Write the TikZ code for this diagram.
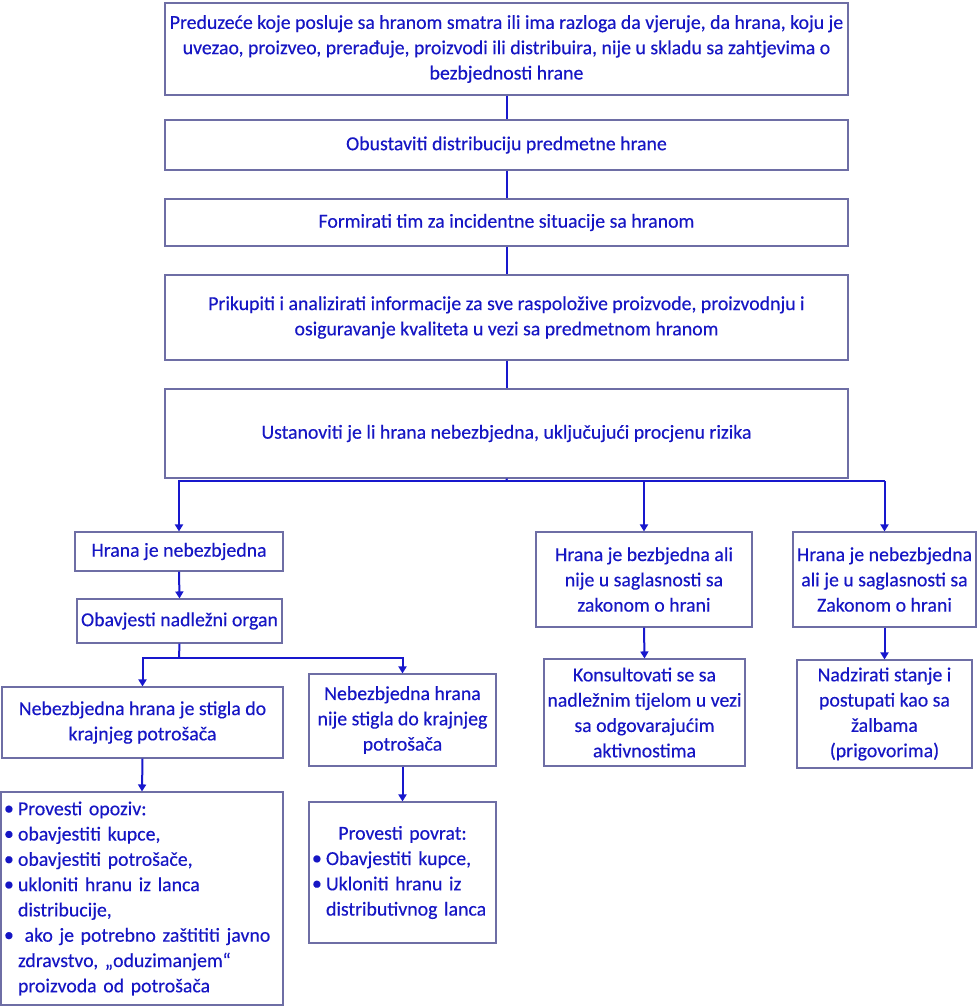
\documentclass[tikz,border=0pt]{standalone}
\usepackage{fontspec}
\setmainfont{Carlito}
\usetikzlibrary{arrows.meta}
\definecolor{txtblue}{RGB}{22,22,196}
\definecolor{lnblue}{RGB}{24,24,205}
\definecolor{bxgray}{RGB}{110,110,165}
\newcommand{\bul}{\makebox[14pt][l]{\raisebox{0.5pt}{\textbullet}}}
\newcommand{\ind}{\hspace*{14pt}}
\tikzset{
  x=1pt, y=-1pt,
  box/.style={draw=bxgray, line width=1.1pt, fill=white, text=txtblue,
    inner sep=1pt, align=center,
    font=\fontsize{19.8}{25.3}\selectfont\addfontfeatures{FakeBold=0.3}},
  ln/.style={draw=lnblue, line width=2pt},
  arr/.style={ln, -{Triangle[width=8pt,length=7pt]}},
}
% centred box: name, x1, y1, x2, y2, text
\newcommand{\bx}[6]{%
  \node[box, minimum width={#4-#2}, minimum height={#5-#3}]
    (#1) at ({(#2+#4)/2},{(#3+#5)/2}) {#6};}
% left-aligned box
\newcommand{\bxl}[6]{%
  \node[box, align=left, minimum width={#4-#2}, minimum height={#5-#3},
        text width={#4-#2-6}] (#1) at ({(#2+#4)/2},{(#3+#5)/2}) {#6};}
\begin{document}
\begin{tikzpicture}
\useasboundingbox (0,0) rectangle (978,1007);
\fill[white] (0,0) rectangle (978,1007);
\bx{b1}{165}{3}{848}{95}{Preduzeće koje posluje sa hranom smatra ili ima razloga da vjeruje, da hrana, koju je\\ uvezao, proizveo, prerađuje, proizvodi ili distribuira, nije u skladu sa zahtjevima o\\ bezbjednosti hrane}
\bx{b2}{165}{120}{848}{170}{Obustaviti distribuciju predmetne hrane}
\bx{b3}{165}{199}{848}{246}{Formirati tim za incidentne situacije sa hranom}
\bx{b4}{165}{275}{848}{360}{Prikupiti i analizirati informacije za sve raspoložive proizvode, proizvodnju i\\ osiguravanje kvaliteta u vezi sa predmetnom hranom}
\bx{b5}{165}{389}{848}{478}{Ustanoviti je li hrana nebezbjedna, uključujući procjenu rizika}
\bx{b6}{75}{532}{283}{571}{Hrana je nebezbjedna}
\bx{b7}{77}{599}{282}{643}{Obavjesti nadležni organ}
\bx{b8}{2}{687}{283}{758}{Nebezbjedna hrana je stigla do\\ krajnjeg potrošača}
\bx{b9}{309}{674}{496}{766}{Nebezbjedna hrana\\ nije stigla do krajnjeg\\ potrošača}
\bxl{b10}{1}{792}{283}{1005}{\bul Provesti opoziv:\\ \bul obavjestiti kupce,\\ \bul obavjestiti potrošače,\\ \bul ukloniti hranu iz lanca\\ \ind distribucije,\\ \bul\ ako je potrebno zaštititi javno\\ \ind zdravstvo, „oduzimanjem“\\ \ind proizvoda od potrošača}
\bxl{b11}{309}{802}{496}{943}{\hfill Provesti povrat:\hfill\null\\ \bul Obavjestiti kupce,\\ \bul Ukloniti hranu iz\\ \ind distributivnog lanca}
\bx{b12}{536}{532}{752}{627}{Hrana je bezbjedna ali\\ nije u saglasnosti sa\\ zakonom o hrani}
\bx{b13}{544}{659}{745}{766}{Konsultovati se sa\\ nadležnim tijelom u vezi\\ sa odgovarajućim\\ aktivnostima}
\bx{b14}{793}{532}{976}{627}{Hrana je nebezbjedna\\ ali je u saglasnosti sa\\ Zakonom o hrani}
\bx{b15}{797}{660}{972}{768}{Nadzirati stanje i\\ postupati kao sa\\ žalbama\\ (prigovorima)}
% spine
\draw[ln] (b1.south) -- (b2.north);
\draw[ln] (b2.south) -- (b3.north);
\draw[ln] (b3.south) -- (b4.north);
\draw[ln] (b4.south) -- (b5.north);
\coordinate (j1) at (507,481);
\draw[ln] (b5.south) -- (j1);
\draw[arr] (j1) -| (b6.north);
\draw[arr] (j1) -| (b12.north);
\draw[ln] (j1) -- (j1 -| b14.north);
\draw[arr] (j1 -| b14.north) -- (b14.north);
\draw[arr] (b6.south) -- (b7.north);
\coordinate (j2) at (179,658);
\draw[ln] (b7.south) -- (j2);
\draw[arr] (j2) -| (b8.north);
\draw[arr] (j2) -| (b9.north);
\draw[arr] (b8.south) -- (b10.north);
\draw[arr] (b9.south) -- (b11.north);
\draw[arr] (b12.south) -- (b13.north);
\draw[arr] (b14.south) -- (b15.north);
\end{tikzpicture}
\end{document}
